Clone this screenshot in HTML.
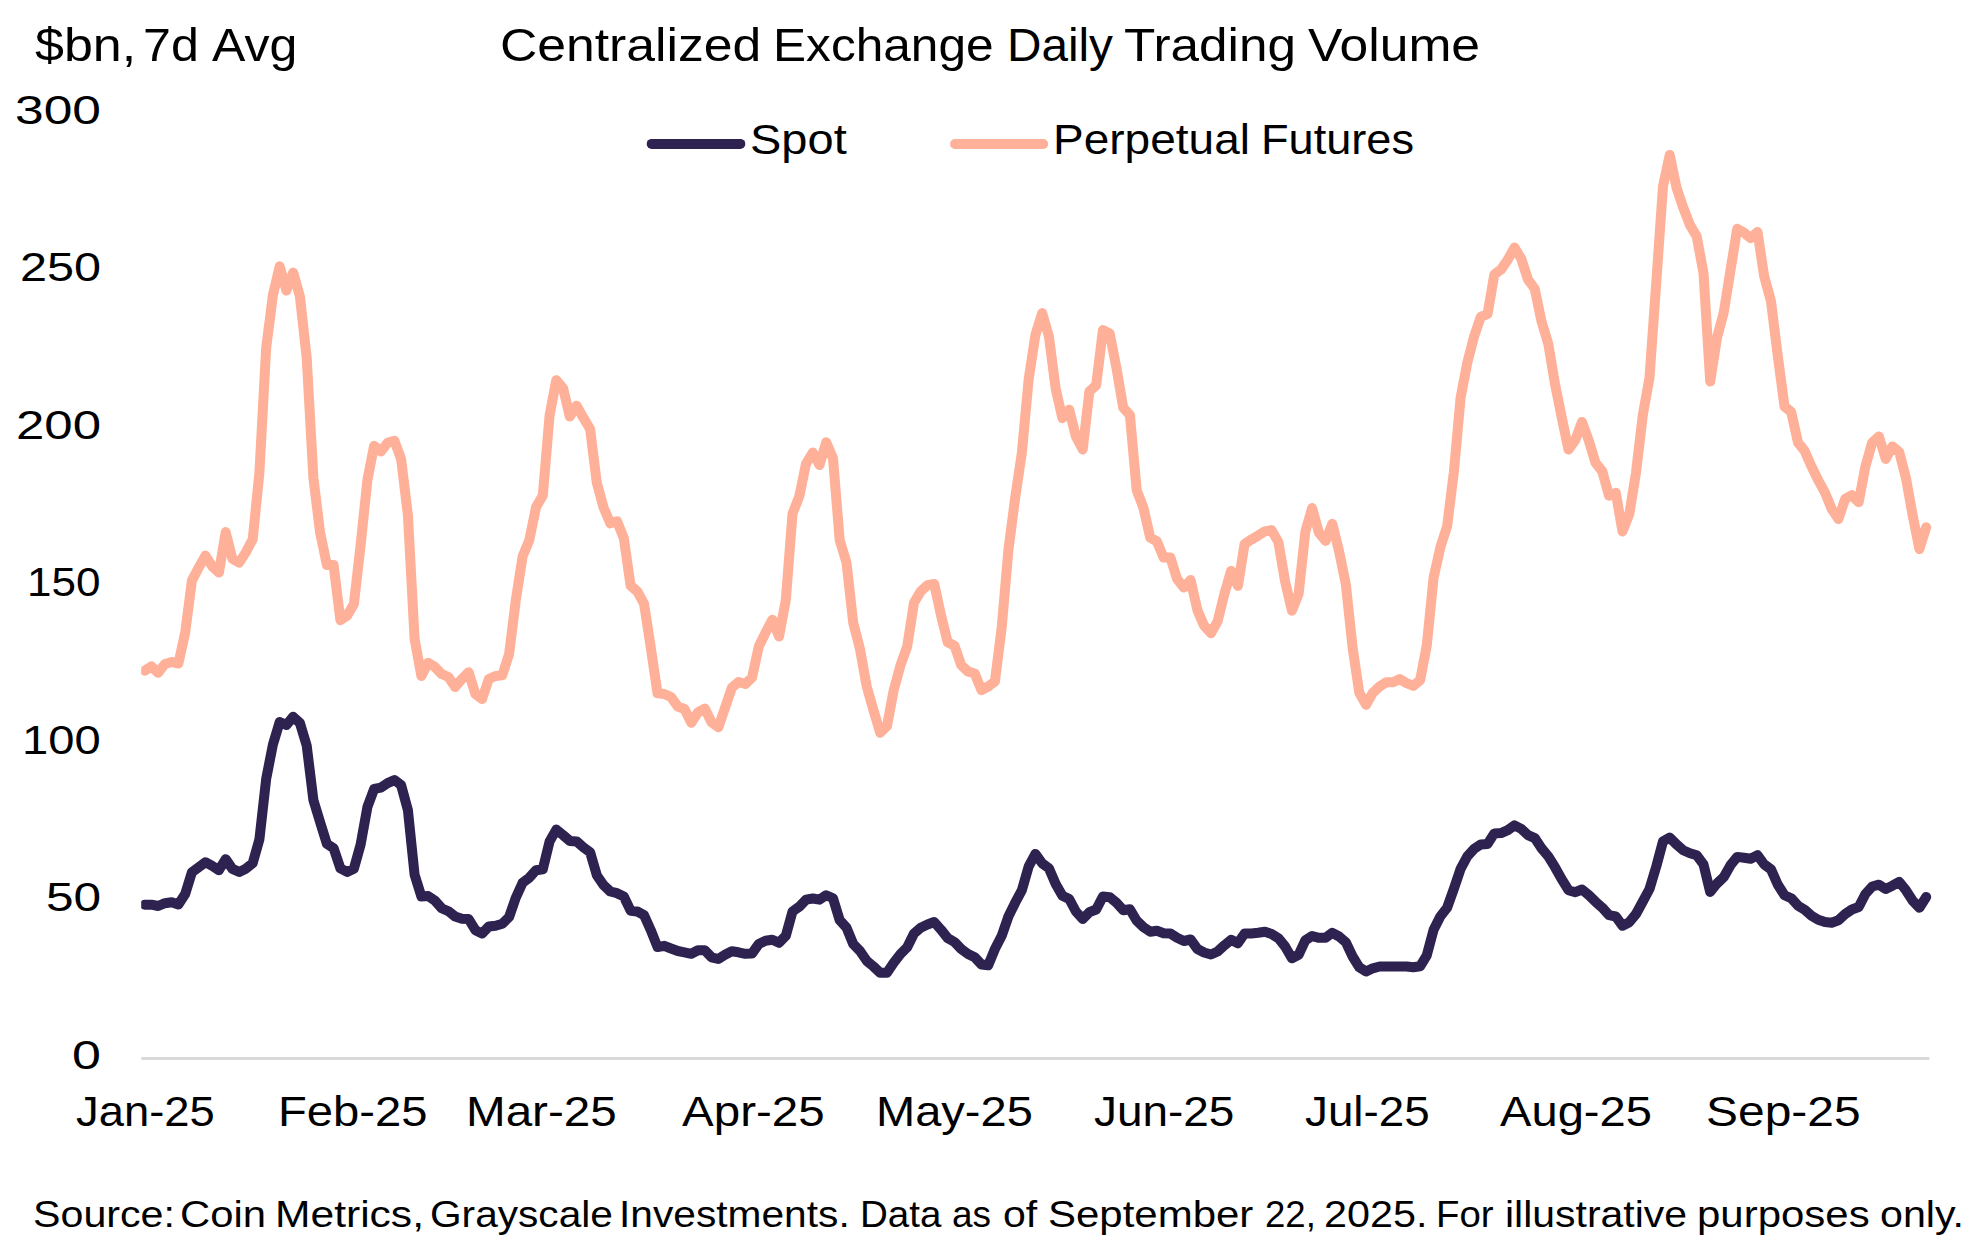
<!DOCTYPE html>
<html lang="en"><head><meta charset="utf-8"><title>Centralized Exchange Daily Trading Volume</title>
<style>
html,body{margin:0;padding:0;background:#fff}
body{width:1981px;height:1255px;position:relative;overflow:hidden;font-family:"Liberation Sans",Arial,sans-serif;color:#000}
.t{position:absolute;white-space:nowrap;transform-origin:0 0;margin:0;padding:0;display:block}
svg{position:absolute;left:0;top:0}
</style></head><body>
<svg width="1981" height="1255" viewBox="0 0 1981 1255">
<defs><clipPath id="plot"><rect x="141.2" y="90" width="1839.8" height="980"/></clipPath></defs>
<rect x="141.3" y="1057" width="1788.1" height="3" fill="#d9d9d9"/>
<g clip-path="url(#plot)" fill="none" stroke-width="10" stroke-linejoin="round" stroke-linecap="round">
<polyline stroke="#ffb098" points="144.7,670.7 151.4,666.5 158.2,672.7 164.9,664.0 171.7,662.0 178.4,663.5 185.2,632.7 191.9,580.6 198.7,567.6 205.4,555.6 212.2,566.4 218.9,572.6 225.7,532.1 232.4,558.9 239.2,562.6 245.9,552.1 252.7,539.4 259.4,472.8 266.2,347.6 272.9,295.1 279.7,266.3 286.4,290.6 293.2,272.6 299.9,296.4 306.7,357.7 313.4,477.8 320.1,532.6 326.9,565.1 333.6,565.1 340.4,620.2 347.1,615.7 353.9,603.9 360.6,545.1 367.4,480.0 374.1,445.8 380.9,451.5 387.6,442.8 394.4,440.7 401.1,459.0 407.9,515.1 414.6,639.0 421.4,676.0 428.1,662.7 434.9,667.0 441.6,674.0 448.4,677.0 455.1,687.0 461.9,679.0 468.6,672.2 475.4,694.0 482.1,699.0 488.8,679.0 495.6,676.0 502.3,675.2 509.1,654.0 515.8,600.2 522.6,556.4 529.3,540.1 536.1,507.1 542.8,495.6 549.6,415.2 556.3,380.2 563.1,388.2 569.8,416.5 576.6,405.7 583.3,417.7 590.1,429.0 596.8,482.8 603.6,507.6 610.3,523.3 617.1,521.3 623.8,538.1 630.6,585.6 637.3,591.4 644.1,603.9 650.8,647.7 657.5,693.3 664.3,694.0 671.0,697.0 677.8,706.5 684.5,709.0 691.3,722.8 698.0,712.3 704.8,708.5 711.5,722.3 718.3,727.3 725.0,707.8 731.8,687.8 738.5,682.0 745.3,684.0 752.0,677.7 758.8,646.5 765.5,632.7 772.3,619.7 779.0,636.5 785.8,600.2 792.5,513.8 799.3,496.3 806.0,463.8 812.8,452.5 819.5,465.0 826.2,442.2 833.0,458.3 839.7,540.1 846.5,562.6 853.2,622.7 860.0,649.0 866.7,686.5 873.5,710.3 880.2,732.8 887.0,726.0 893.7,690.2 900.5,665.2 907.2,646.5 914.0,602.7 920.7,591.4 927.5,585.1 934.2,583.9 941.0,615.2 947.7,642.2 954.5,645.7 961.2,665.2 968.0,671.5 974.7,673.5 981.5,690.2 988.2,686.5 994.9,681.5 1001.7,627.7 1008.4,550.1 1015.2,497.6 1021.9,452.5 1028.7,378.9 1035.4,335.1 1042.2,313.1 1048.9,336.4 1055.7,388.9 1062.4,418.2 1069.2,409.7 1075.9,436.5 1082.7,449.5 1089.4,391.4 1096.2,385.2 1102.9,330.1 1109.7,333.4 1116.4,367.7 1123.2,407.7 1129.9,415.2 1136.7,490.3 1143.4,507.6 1150.2,537.6 1156.9,541.4 1163.6,557.6 1170.4,557.6 1177.1,578.9 1183.9,587.6 1190.6,580.1 1197.4,610.2 1204.1,625.7 1210.9,633.2 1217.6,621.4 1224.4,593.9 1231.1,570.9 1237.9,585.9 1244.6,543.9 1251.4,539.6 1258.1,535.6 1264.9,531.3 1271.6,530.1 1278.4,542.1 1285.1,581.4 1291.9,610.7 1298.6,593.9 1305.4,531.3 1312.1,508.1 1318.9,532.6 1325.6,540.9 1332.3,523.8 1339.1,551.4 1345.8,583.9 1352.6,647.7 1359.3,692.8 1366.1,704.8 1372.8,692.8 1379.6,686.5 1386.3,682.2 1393.1,682.2 1399.8,679.0 1406.6,683.2 1413.3,685.8 1420.1,680.2 1426.8,645.2 1433.6,577.6 1440.3,547.6 1447.1,526.3 1453.8,472.5 1460.6,397.7 1467.3,362.7 1474.1,336.4 1480.8,316.9 1487.6,313.9 1494.3,274.6 1501.0,269.6 1507.8,259.6 1514.5,247.6 1521.3,258.9 1528.0,279.6 1534.8,288.9 1541.5,321.4 1548.3,344.0 1555.0,384.0 1561.8,417.8 1568.5,449.6 1575.3,440.1 1582.0,421.9 1588.8,440.6 1595.5,462.7 1602.3,471.4 1609.0,495.7 1615.8,492.7 1622.5,531.5 1629.3,514.0 1636.0,472.7 1642.8,415.1 1649.5,377.6 1656.3,282.1 1663.0,186.3 1669.7,155.0 1676.5,187.6 1683.2,207.6 1690.0,225.1 1696.7,236.4 1703.5,273.1 1710.2,381.5 1717.0,337.7 1723.7,312.7 1730.5,270.1 1737.2,228.8 1744.0,232.6 1750.7,238.1 1757.5,232.1 1764.2,276.4 1771.0,301.4 1777.7,355.2 1784.5,406.5 1791.2,411.9 1798.0,442.6 1804.7,450.9 1811.5,466.4 1818.2,480.2 1825.0,492.7 1831.7,509.0 1838.4,519.0 1845.2,498.9 1851.9,495.2 1858.7,502.2 1865.4,466.4 1872.2,442.6 1878.9,436.4 1885.7,458.9 1892.4,446.4 1899.2,452.1 1905.9,477.7 1912.7,515.7 1919.4,549.0 1926.2,527.2"/>
<polyline stroke="#2e2250" points="144.7,904.7 151.4,904.7 158.2,906.0 164.9,903.2 171.7,902.2 178.4,904.5 185.2,894.0 191.9,872.2 198.7,867.2 205.4,862.2 212.2,865.9 218.9,870.2 225.7,859.2 232.4,868.9 239.2,871.9 245.9,868.7 252.7,863.2 259.4,839.4 266.2,778.8 272.9,744.6 279.7,722.0 286.4,725.0 293.2,716.8 299.9,723.0 306.7,745.6 313.4,800.1 320.1,822.1 326.9,843.9 333.6,848.2 340.4,868.4 347.1,871.9 353.9,868.7 360.6,844.7 367.4,807.1 374.1,788.9 380.9,787.6 387.6,783.1 394.4,780.1 401.1,785.1 407.9,810.1 414.6,874.7 421.4,896.5 428.1,896.0 434.9,900.7 441.6,908.2 448.4,911.2 455.1,916.5 461.9,918.7 468.6,919.0 475.4,930.2 482.1,933.5 488.8,926.5 495.6,925.7 502.3,923.7 509.1,917.0 515.8,897.7 522.6,882.7 529.3,877.7 536.1,870.2 542.8,869.2 549.6,841.4 556.3,829.6 563.1,835.1 569.8,840.9 576.6,841.4 583.3,847.2 590.1,852.2 596.8,875.2 603.6,885.2 610.3,891.5 617.1,893.2 623.8,896.5 630.6,910.7 637.3,911.5 644.1,915.2 650.8,930.2 657.5,947.0 664.3,945.8 671.0,948.5 677.8,951.0 684.5,952.3 691.3,953.8 698.0,950.3 704.8,950.3 711.5,957.3 718.3,959.0 725.0,954.8 731.8,951.3 738.5,952.3 745.3,953.8 752.0,953.5 758.8,944.0 765.5,940.8 772.3,939.8 779.0,942.8 785.8,935.8 792.5,911.5 799.3,906.7 806.0,899.7 812.8,898.5 819.5,899.7 826.2,895.2 833.0,898.2 839.7,920.2 846.5,927.7 853.2,944.0 860.0,951.0 866.7,960.8 873.5,966.5 880.2,972.8 887.0,972.8 893.7,962.8 900.5,954.0 907.2,947.3 914.0,933.5 920.7,927.7 927.5,924.5 934.2,922.0 941.0,929.7 947.7,938.2 954.5,942.0 961.2,949.0 968.0,954.0 974.7,957.3 981.5,964.5 988.2,965.3 994.9,949.0 1001.7,935.8 1008.4,916.5 1015.2,902.7 1021.9,890.2 1028.7,866.4 1035.4,853.9 1042.2,863.4 1048.9,868.2 1055.7,884.0 1062.4,895.7 1069.2,899.0 1075.9,911.5 1082.7,919.0 1089.4,912.2 1096.2,909.5 1102.9,896.5 1109.7,897.2 1116.4,902.7 1123.2,910.2 1129.9,909.2 1136.7,920.7 1143.4,927.2 1150.2,931.7 1156.9,930.7 1163.6,933.2 1170.4,933.5 1177.1,937.8 1183.9,941.0 1190.6,939.5 1197.4,949.0 1204.1,952.5 1210.9,954.5 1217.6,951.5 1224.4,945.3 1231.1,939.8 1237.9,943.3 1244.6,933.5 1251.4,933.5 1258.1,932.8 1264.9,931.7 1271.6,934.0 1278.4,938.2 1285.1,946.5 1291.9,958.3 1298.6,954.8 1305.4,940.2 1312.1,936.0 1318.9,937.8 1325.6,937.8 1332.3,932.8 1339.1,936.5 1345.8,942.2 1352.6,956.5 1359.3,967.3 1366.1,971.5 1372.8,968.3 1379.6,966.5 1386.3,966.5 1393.1,966.5 1399.8,966.5 1406.6,966.5 1413.3,967.3 1420.1,966.3 1426.8,955.3 1433.6,929.7 1440.3,916.5 1447.1,907.7 1453.8,889.0 1460.6,868.9 1467.3,856.4 1474.1,848.9 1480.8,844.4 1487.6,843.9 1494.3,833.4 1501.0,833.1 1507.8,830.1 1514.5,825.4 1521.3,828.9 1528.0,835.1 1534.8,838.1 1541.5,848.2 1548.3,856.4 1555.0,867.2 1561.8,879.4 1568.5,890.2 1575.3,892.2 1582.0,889.5 1588.8,895.2 1595.5,901.7 1602.3,907.7 1609.0,915.2 1615.8,916.5 1622.5,925.7 1629.3,922.2 1636.0,914.0 1642.8,901.5 1649.5,889.0 1656.3,866.4 1663.0,841.4 1669.7,837.6 1676.5,844.4 1683.2,850.2 1690.0,853.2 1696.7,855.2 1703.5,864.4 1710.2,892.0 1717.0,883.5 1723.7,877.2 1730.5,865.2 1737.2,856.9 1744.0,857.7 1750.7,858.7 1757.5,855.2 1764.2,864.4 1771.0,869.4 1777.7,884.5 1784.5,895.2 1791.2,898.2 1798.0,905.7 1804.7,909.7 1811.5,915.7 1818.2,919.7 1825.0,922.0 1831.7,922.7 1838.4,920.2 1845.2,914.0 1851.9,909.5 1858.7,907.0 1865.4,894.0 1872.2,886.5 1878.9,884.7 1885.7,889.0 1892.4,885.7 1899.2,881.9 1905.9,890.2 1912.7,900.7 1919.4,907.7 1926.2,897.0"/>
</g>
<line x1="651.7" y1="143.9" x2="740.3" y2="143.9" stroke="#2e2250" stroke-width="10" stroke-linecap="round"/>
<line x1="955" y1="144" x2="1043.2" y2="144" stroke="#ffb098" stroke-width="10" stroke-linecap="round"/>
</svg>
<div id="unit" style="font-size:46.5px;line-height:46.5px"><span class="t" style="left:34.68px;top:21.50px;transform:scaleX(1.1186)">$bn,</span> <span class="t" style="left:142.84px;top:21.50px;transform:scaleX(1.0787)">7d</span> <span class="t" style="left:211.60px;top:21.50px;transform:scaleX(1.0766)">Avg</span></div>
<div id="title" style="font-size:46.5px;line-height:46.5px"><span class="t" style="left:499.78px;top:22.00px;transform:scaleX(1.1109)">Centralized</span> <span class="t" style="left:773.30px;top:22.00px;transform:scaleX(1.0668)">Exchange</span> <span class="t" style="left:1006.62px;top:22.00px;transform:scaleX(1.0250)">Daily</span> <span class="t" style="left:1123.70px;top:22.00px;transform:scaleX(1.1026)">Trading</span> <span class="t" style="left:1307.50px;top:22.00px;transform:scaleX(1.1092)">Volume</span></div>
<div id="y300" style="font-size:41.5px;line-height:41.5px"><span class="t" style="left:14.92px;top:89.00px;transform:scaleX(1.2409)">300</span></div>
<div id="y250" style="font-size:41.5px;line-height:41.5px"><span class="t" style="left:19.66px;top:246.45px;transform:scaleX(1.1712)">250</span></div>
<div id="y200" style="font-size:41.5px;line-height:41.5px"><span class="t" style="left:15.74px;top:403.90px;transform:scaleX(1.2288)">200</span></div>
<div id="y150" style="font-size:41.5px;line-height:41.5px"><span class="t" style="left:27.12px;top:561.35px;transform:scaleX(1.0615)">150</span></div>
<div id="y100" style="font-size:41.5px;line-height:41.5px"><span class="t" style="left:22.09px;top:718.80px;transform:scaleX(1.1354)">100</span></div>
<div id="y50" style="font-size:41.5px;line-height:41.5px"><span class="t" style="left:45.51px;top:876.25px;transform:scaleX(1.1953)">50</span></div>
<div id="y0" style="font-size:41.5px;line-height:41.5px"><span class="t" style="left:71.75px;top:1033.70px;transform:scaleX(1.2524)">0</span></div>
<div id="x0" style="font-size:42.5px;line-height:42.5px"><span class="t" style="left:75.53px;top:1090.60px;transform:scaleX(1.0677)">Jan-25</span></div>
<div id="x1" style="font-size:42.5px;line-height:42.5px"><span class="t" style="left:278.17px;top:1090.60px;transform:scaleX(1.1100)">Feb-25</span></div>
<div id="x2" style="font-size:42.5px;line-height:42.5px"><span class="t" style="left:466.44px;top:1090.60px;transform:scaleX(1.1200)">Mar-25</span></div>
<div id="x3" style="font-size:42.5px;line-height:42.5px"><span class="t" style="left:681.70px;top:1090.60px;transform:scaleX(1.1183)">Apr-25</span></div>
<div id="x4" style="font-size:42.5px;line-height:42.5px"><span class="t" style="left:875.58px;top:1090.60px;transform:scaleX(1.1066)">May-25</span></div>
<div id="x5" style="font-size:42.5px;line-height:42.5px"><span class="t" style="left:1093.72px;top:1090.60px;transform:scaleX(1.0803)">Jun-25</span></div>
<div id="x6" style="font-size:42.5px;line-height:42.5px"><span class="t" style="left:1304.62px;top:1090.60px;transform:scaleX(1.0770)">Jul-25</span></div>
<div id="x7" style="font-size:42.5px;line-height:42.5px"><span class="t" style="left:1500.20px;top:1090.60px;transform:scaleX(1.1088)">Aug-25</span></div>
<div id="x8" style="font-size:42.5px;line-height:42.5px"><span class="t" style="left:1706.44px;top:1090.60px;transform:scaleX(1.1284)">Sep-25</span></div>
<div id="lg1" style="font-size:42.5px;line-height:42.5px"><span class="t" style="left:749.79px;top:119.30px;transform:scaleX(1.1059)">Spot</span></div>
<div id="lg2" style="font-size:42.5px;line-height:42.5px"><span class="t" style="left:1052.55px;top:119.10px;transform:scaleX(1.0825)">Perpetual</span> <span class="t" style="left:1260.81px;top:119.10px;transform:scaleX(1.0621)">Futures</span></div>
<div id="src" style="font-size:37.4px;line-height:37.4px"><span class="t" style="left:32.80px;top:1196.20px;transform:scaleX(1.1016)">Source:</span> <span class="t" style="left:180.36px;top:1196.20px;transform:scaleX(1.1178)">Coin</span> <span class="t" style="left:274.78px;top:1196.20px;transform:scaleX(1.1384)">Metrics,</span> <span class="t" style="left:429.93px;top:1196.20px;transform:scaleX(1.0867)">Grayscale</span> <span class="t" style="left:619.13px;top:1196.20px;transform:scaleX(1.0883)">Investments.</span> <span class="t" style="left:860.11px;top:1196.20px;transform:scaleX(1.0303)">Data</span> <span class="t" style="left:952.21px;top:1196.20px;transform:scaleX(0.9892)">as</span> <span class="t" style="left:1003.10px;top:1196.20px;transform:scaleX(1.0968)">of</span> <span class="t" style="left:1047.55px;top:1196.20px;transform:scaleX(1.1227)">September</span> <span class="t" style="left:1265.04px;top:1196.20px;transform:scaleX(0.9787)">22,</span> <span class="t" style="left:1324.49px;top:1196.20px;transform:scaleX(1.1056)">2025.</span> <span class="t" style="left:1436.02px;top:1196.20px;transform:scaleX(1.0264)">For</span> <span class="t" style="left:1504.71px;top:1196.20px;transform:scaleX(1.0951)">illustrative</span> <span class="t" style="left:1697.15px;top:1196.20px;transform:scaleX(1.1225)">purposes</span> <span class="t" style="left:1879.50px;top:1196.20px;transform:scaleX(1.1028)">only.</span></div>
</body></html>
